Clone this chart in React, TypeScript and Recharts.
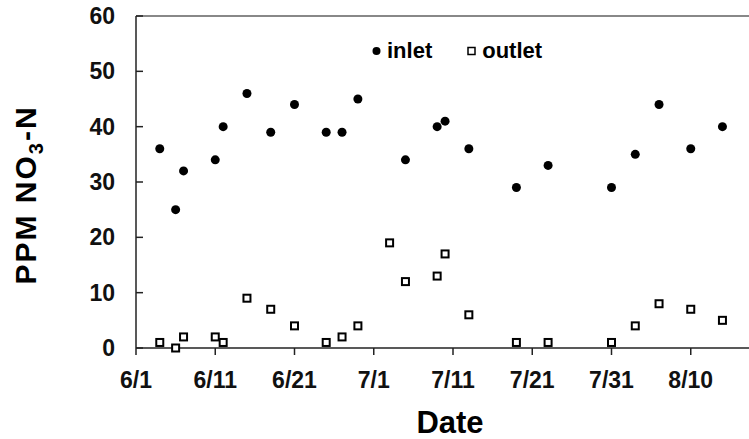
import { ScatterChart, Scatter, XAxis, YAxis, ReferenceLine, Legend } from 'recharts'

const inletDates = ['6/4', '6/6', '6/7', '6/11', '6/12', '6/15', '6/18', '6/21', '6/25', '6/27', '6/29', '7/5', '7/9', '7/10', '7/13', '7/19', '7/23', '7/31', '8/3', '8/6', '8/10', '8/14']
const inletValues = [36, 25, 32, 34, 40, 46, 39, 44, 39, 39, 45, 34, 40, 41, 36, 29, 33, 29, 35, 44, 36, 40]

const outletDates = ['6/4', '6/6', '6/7', '6/11', '6/12', '6/15', '6/18', '6/21', '6/25', '6/27', '6/29', '7/3', '7/5', '7/9', '7/10', '7/13', '7/19', '7/23', '7/31', '8/3', '8/6', '8/10', '8/14']
const outletValues = [1, 0, 2, 2, 1, 9, 7, 4, 1, 2, 4, 19, 12, 13, 17, 6, 1, 1, 1, 4, 8, 7, 5]

const xTickLabels = ['6/1', '6/11', '6/21', '7/1', '7/11', '7/21', '7/31', '8/10']
const yTicks = [0, 10, 20, 30, 40, 50, 60]

const FONT = 'Arial, "Liberation Sans", sans-serif'

// days since 6/1
function dayOf(label: string) {
  const [m, d] = label.split('/').map(Number)
  const monthStart: Record<number, number> = { 6: -1, 7: 29, 8: 60 }
  return monthStart[m] + d
}

const xTicks = xTickLabels.map(dayOf)
const inletData = inletDates.map((d, i) => ({ x: dayOf(d), y: inletValues[i] }))
const outletData = outletDates.map((d, i) => ({ x: dayOf(d), y: outletValues[i] }))

const Dot = (props: any) => <circle cx={props.cx} cy={props.cy} r={4.5} fill="#000" />
const Box = (props: any) => (
  <rect x={props.cx - 3.5} y={props.cy - 3.5} width={7} height={7} fill="#fff" stroke="#000" strokeWidth={2} />
)

const renderYTitle = (props: any) => {
  const vb = props.viewBox
  const x = vb.x + 36
  const y = vb.y + vb.height / 2 + 13
  return (
    <text
      x={x}
      y={y}
      transform={`rotate(-90, ${x}, ${y})`}
      textAnchor="middle"
      fill="#000"
      fontFamily={FONT}
      fontWeight={700}
      fontSize={30}
      letterSpacing={2}
    >
      PPM NO
      <tspan dy={7} fontSize={20}>3</tspan>
      <tspan dy={-7}>-N</tspan>
    </text>
  )
}

const renderLegend = () => (
  <div style={{ display: 'flex', alignItems: 'center', fontFamily: FONT, fontWeight: 700, fontSize: 22, lineHeight: 1, color: '#000' }}>
    <svg width={9} height={10}>
      <circle cx={4.5} cy={5} r={4} fill="#000" />
    </svg>
    <span style={{ marginLeft: 6 }}>inlet</span>
    <svg width={9} height={10} style={{ marginLeft: 35 }}>
      <rect x={1} y={1.5} width={7} height={7} fill="#fff" stroke="#000" strokeWidth={1.5} />
    </svg>
    <span style={{ marginLeft: 6 }}>outlet</span>
  </div>
)

export default function App() {
  return (
    <div style={{ position: 'absolute', left: 0, top: 0, width: 749, height: 439, overflow: 'hidden', background: '#fff' }}>
      <ScatterChart width={790} height={439} margin={{ top: 16, right: 20, left: 0, bottom: 0 }}>
        <XAxis
          type="number"
          dataKey="x"
          domain={[0, 80]}
          ticks={xTicks}
          interval={0}
          allowDataOverflow
          tickFormatter={(v) => xTickLabels[xTicks.indexOf(v)]}
          height={91}
          tickSize={7}
          tickMargin={17}
          stroke="#222"
          strokeWidth={1.5}
          tick={{ fill: '#111', fontSize: 23, fontWeight: 700, fontFamily: FONT }}
          label={{ value: 'Date', position: 'insideBottom', offset: 6, dx: -3, style: { fill: '#000', fontSize: 31, fontWeight: 700, fontFamily: FONT } }}
        />
        <YAxis
          type="number"
          dataKey="y"
          domain={[0, 60]}
          ticks={yTicks}
          interval={0}
          width={136}
          tickSize={-7}
          tickMargin={28}
          stroke="#222"
          strokeWidth={1.5}
          tick={{ fill: '#111', fontSize: 23, fontWeight: 700, fontFamily: FONT }}
          label={{ content: renderYTitle }}
        />
        <ReferenceLine y={60} stroke="#888" strokeWidth={2} />
        <Legend
          layout="horizontal"
          verticalAlign="middle"
          align="center"
          wrapperStyle={{ top: 40, left: 372, width: 220 }}
          content={renderLegend}
        />
        <Scatter name="inlet" data={inletData} fill="#000" shape={Dot} isAnimationActive={false} />
        <Scatter name="outlet" data={outletData} fill="#fff" shape={Box} isAnimationActive={false} />
      </ScatterChart>
    </div>
  )
}
